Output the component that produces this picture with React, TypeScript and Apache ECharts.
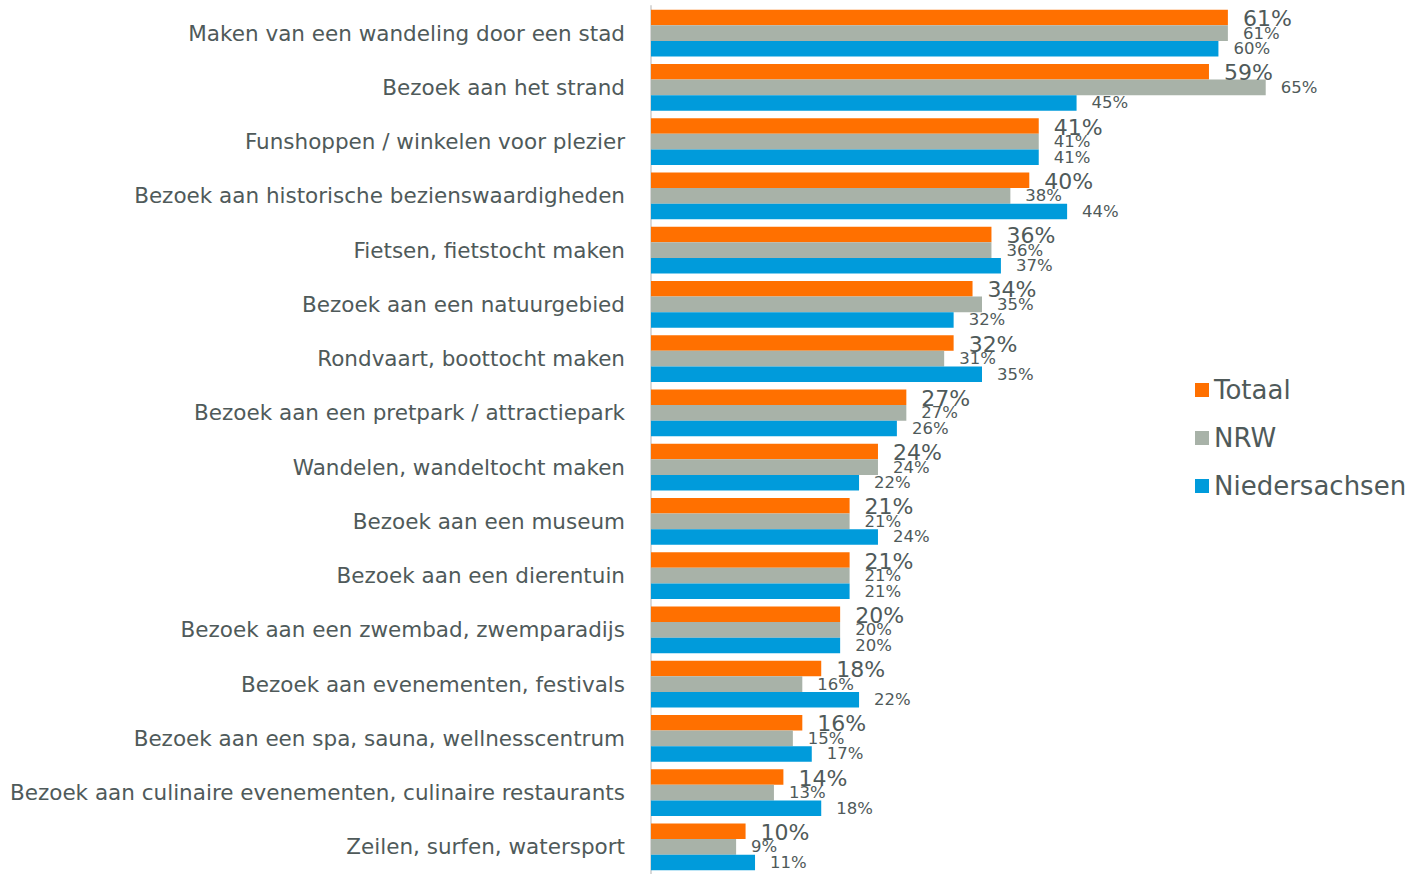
import React, { useEffect, useRef } from "react";
import * as echarts from "echarts";

const categories = [
  "Maken van een wandeling door een stad",
  "Bezoek aan het strand",
  "Funshoppen / winkelen voor plezier",
  "Bezoek aan historische bezienswaardigheden",
  "Fietsen, fietstocht maken",
  "Bezoek aan een natuurgebied",
  "Rondvaart, boottocht maken",
  "Bezoek aan een pretpark / attractiepark",
  "Wandelen, wandeltocht maken",
  "Bezoek aan een museum",
  "Bezoek aan een dierentuin",
  "Bezoek aan een zwembad, zwemparadijs",
  "Bezoek aan evenementen, festivals",
  "Bezoek aan een spa, sauna, wellnesscentrum",
  "Bezoek aan culinaire evenementen, culinaire restaurants",
  "Zeilen, surfen, watersport",
];
const totaal = [61, 59, 41, 40, 36, 34, 32, 27, 24, 21, 21, 20, 18, 16, 14, 10];
const nrw = [61, 65, 41, 38, 36, 35, 31, 27, 24, 21, 21, 20, 16, 15, 13, 9];
const niedersachsen = [60, 45, 41, 44, 37, 32, 35, 26, 22, 24, 21, 20, 22, 17, 18, 11];
const seriesNames = ["Totaal", "NRW", "Niedersachsen"];
const colors = ["#FF7000", "#A8B2A8", "#009BDB"];

const FONT = "DejaVu Sans";
const TEXT = "#4F5A5A";

export default function App() {
  const ref = useRef<HTMLDivElement>(null);
  useEffect(() => {
    if (!ref.current) return;
    const chart = echarts.init(ref.current, null, { renderer: "svg" });
    const data = [totaal, nrw, niedersachsen];
    chart.setOption({
      animation: false,
      backgroundColor: "#FFFFFF",
      textStyle: { fontFamily: FONT },
      legend: {
        orient: "vertical",
        left: 1190,
        top: 372,
        itemWidth: 14,
        itemHeight: 14,
        itemGap: 22,
        icon: "rect",
        data: seriesNames,
        textStyle: { fontFamily: FONT, fontSize: 26, color: TEXT },
      },
      grid: { left: 651, top: 6, width: 662, height: 877 },
      xAxis: {
        type: "value",
        min: 0,
        max: 70,
        show: false,
      },
      yAxis: {
        type: "category",
        inverse: true,
        data: categories,
        axisLine: { show: true, lineStyle: { color: "#D9D9D9", width: 2 } },
        axisTick: { show: false },
        axisLabel: {
          fontFamily: FONT,
          fontSize: 21.5,
          color: TEXT,
          margin: 26,
        },
      },
      series: seriesNames.map((name, i) => ({
        name,
        type: "bar",
        data: data[i],
        barGap: "0%",
        barCategoryGap: "14%",
        itemStyle: { color: colors[i] },
        label: {
          show: true,
          position: "right",
          distance: 15,
          formatter: "{c}%",
          fontFamily: FONT,
          fontSize: i === 0 ? 22 : 16.5,
          color: TEXT,
          offset: i === 0 ? [0, 1] : [0, 0],
        },
      })),
    });
    return () => chart.dispose();
  }, []);
  return (
    <div
      ref={ref}
      style={{ position: "fixed", left: 0, top: 0, width: 1411, height: 874 }}
    />
  );
}
